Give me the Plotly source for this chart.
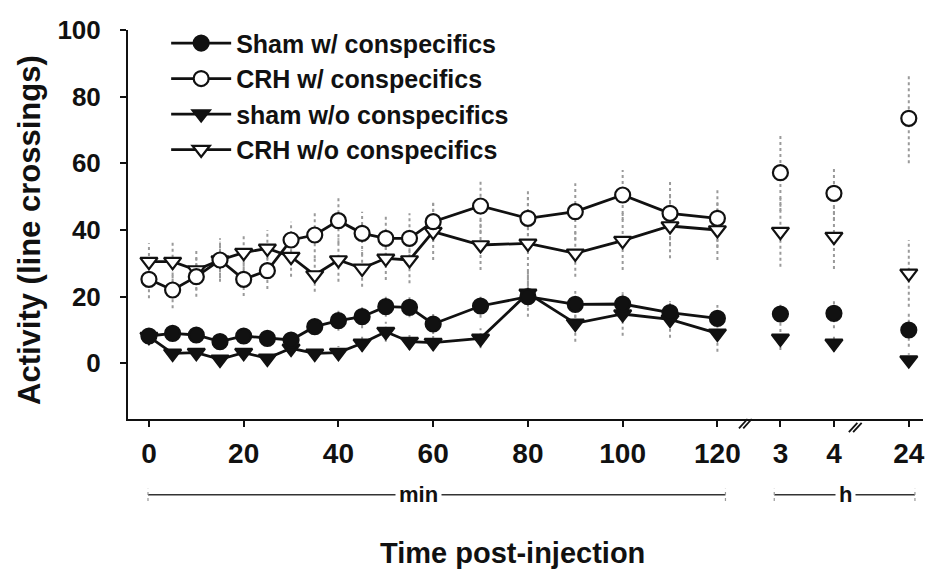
import plotly.graph_objects as go

# ---------------- data ----------------
minute_times = [0, 5, 10, 15, 20, 25, 30, 35, 40, 45, 50, 55, 60, 70, 80, 90, 100, 110, 120]
hour_times = [3, 4, 24]

sham_w = [8.2, 9.0, 8.5, 6.5, 8.2, 7.5, 7.0, 11.0, 12.8, 14.0, 17.0, 16.8, 11.8, 17.2, 20.0, 17.7, 17.8, 15.2, 13.5,
          14.8, 15.0, 10.0]
sham_w_err = [1.5, 2.0, 2.0, 2.0, 2.0, 2.0, 2.0, 2.5, 3.0, 3.5, 3.0, 3.0, 3.0, 3.5, 3.0, 4.0, 3.0, 3.0, 4.0,
              3.5, 4.5, 5.0]

crh_w = [25.2, 22.0, 26.0, 31.0, 25.2, 27.8, 37.0, 38.5, 42.8, 39.0, 37.5, 37.5, 42.5, 47.2, 43.5, 45.5, 50.5, 45.0, 43.5,
         57.2, 51.0, 73.5]
crh_w_err = [5.7, 5.5, 6.0, 5.5, 5.0, 5.5, 5.5, 7.0, 6.8, 6.5, 7.0, 7.5, 6.0, 8.0, 9.0, 8.5, 7.5, 9.5, 8.7,
             11.5, 8.0, 13.5]

sham_wo = [8.0, 3.0, 3.2, 1.2, 3.2, 1.5, 4.5, 3.0, 3.2, 6.0, 9.5, 6.5, 6.2, 7.5, 21.0, 12.0, 14.8, 13.2, 9.0,
           7.5, 6.0, 1.0]
sham_wo_err = [1.5, 1.5, 1.5, 1.5, 1.5, 1.5, 1.5, 1.5, 2.0, 2.5, 3.0, 2.5, 2.5, 3.0, 7.0, 5.5, 6.5, 5.5, 5.5,
               3.5, 2.5, 2.0]

crh_wo = [30.5, 30.5, 28.0, 31.0, 33.2, 34.5, 32.0, 26.5, 31.0, 28.5, 31.5, 31.0, 39.5, 35.5, 36.0, 33.0, 36.8, 41.2, 40.0,
          39.5, 38.0, 27.0]
crh_wo_err = [5.5, 6.0, 6.0, 6.5, 5.0, 5.5, 6.0, 5.0, 6.5, 5.5, 6.5, 7.0, 8.5, 7.5, 14.0, 7.0, 8.8, 9.7, 9.0,
              10.5, 9.7, 10.0]

series_names = ["Sham w/ conspecifics", "CRH w/ conspecifics", "sham w/o conspecifics", "CRH w/o conspecifics"]

minute_ticks = [0, 20, 40, 60, 80, 100, 120]
hour_ticks = [3, 4, 24]

# ---------------- broken time scale ----------------
HOUR_AXIS = {3: 133.3, 4: 144.6, 24: 160.4}   # axis position of each hour after the break


def pos_min(t):
    return t


def pos_hour(h):
    return HOUR_AXIS[h]


n_min = len(minute_times)
x_all = [pos_min(t) for t in minute_times] + [pos_hour(h) for h in hour_times]

FONT = "Liberation Sans, Arial, sans-serif"
BLACK = "#111111"

styles = [
    dict(symbol="circle", color=BLACK),
    dict(symbol="circle", color="white"),
    dict(symbol="triangle-down", color=BLACK),
    dict(symbol="triangle-down", color="white"),
]
values = [sham_w, crh_w, sham_wo, crh_wo]
errors = [sham_w_err, crh_w_err, sham_wo_err, crh_wo_err]

fig = go.Figure()

# error bars (gray dotted vertical segments)
for vals, errs in zip(values, errors):
    ex, ey = [], []
    for x, v, e in zip(x_all, vals, errs):
        ex += [x, x, None]
        ey += [v - e, v + e, None]
    fig.add_trace(go.Scatter(x=ex, y=ey, mode="lines", showlegend=False, hoverinfo="skip",
                             line=dict(color="#9a9a9a", width=2, dash="dot")))

# series: connected minute points + isolated hour points
draw_order = [3, 1, 2, 0]
for i in draw_order:
    st = styles[i]
    mk = dict(symbol=st["symbol"], size=15, color=st["color"], line=dict(color=BLACK, width=2.2))
    fig.add_trace(go.Scatter(x=x_all[:n_min], y=values[i][:n_min], mode="lines+markers",
                             name=series_names[i], legendrank=i + 1, legendgroup=f"g{i}",
                             line=dict(color=BLACK, width=2.8), marker=mk))
    fig.add_trace(go.Scatter(x=x_all[n_min:], y=values[i][n_min:], mode="markers",
                             showlegend=False, legendgroup=f"g{i}", marker=mk))

tickvals = [pos_min(t) for t in minute_ticks] + [pos_hour(h) for h in hour_ticks]
ticktext = [str(t) for t in minute_ticks] + [str(h) for h in hour_ticks]

fig.update_layout(
    width=927, height=574,
    margin=dict(l=128, r=2, t=30, b=155),
    paper_bgcolor="white", plot_bgcolor="white",
    font=dict(family=FONT, color=BLACK),
    showlegend=True,
    legend=dict(x=0.048, y=1.025, xanchor="left", yanchor="top", traceorder="grouped",
                tracegroupgap=0, itemwidth=60, bgcolor="rgba(0,0,0,0)",
                font=dict(family=FONT, size=25, weight="bold", color=BLACK)),
    xaxis=dict(range=[-4.42, 163.4], tickvals=tickvals, ticktext=ticktext,
               showline=True, linecolor=BLACK, linewidth=2, ticks="outside", ticklen=6,
               tickwidth=1.5, tickcolor=BLACK, showgrid=False, zeroline=False,
               ticklabelstandoff=2, ticklabeloverflow="allow",
               tickfont=dict(family=FONT, size=28, weight="bold", color=BLACK)),
    yaxis=dict(range=[-16.7, 100], tickvals=[0, 20, 40, 60, 80, 100],
               showline=True, linecolor=BLACK, linewidth=2, ticks="outside", ticklen=6,
               tickwidth=1.5, tickcolor=BLACK, showgrid=False, zeroline=False,
               ticklabelstandoff=14,
               tickfont=dict(family=FONT, size=26, weight="bold", color=BLACK)),
)

# axis break marks "//"
shapes = []
for xb, yb in [(125.9, -0.012), (149.1, -0.022)]:
    for dx in (-0.45, 0.45):
        shapes.append(dict(type="line", xref="x", yref="paper",
                           x0=xb + dx - 0.9, x1=xb + dx + 0.9, y0=yb - 0.012, y1=yb + 0.012,
                           line=dict(color=BLACK, width=1.8)))

# min / h brackets
y_br = -0.195
for (x0, x1) in [(-0.2, 121.7), (132.0, 161.7)]:
    shapes.append(dict(type="line", xref="x", yref="paper", x0=x0, x1=x1, y0=y_br, y1=y_br,
                       line=dict(color="#333333", width=1.5)))
    for xe in (x0, x1):
        shapes.append(dict(type="line", xref="x", yref="paper", x0=xe, x1=xe,
                           y0=y_br - 0.016, y1=y_br + 0.016,
                           line=dict(color="#999999", width=1.2, dash="dot")))
fig.update_layout(shapes=shapes)

fig.add_annotation(x=57, y=y_br, xref="x", yref="paper", text="min", showarrow=False,
                   xanchor="center", yanchor="middle", bgcolor="white", borderpad=3,
                   font=dict(family=FONT, size=22, weight="bold", color=BLACK))
fig.add_annotation(x=147, y=y_br, xref="x", yref="paper", text="h", showarrow=False,
                   xanchor="center", yanchor="middle", bgcolor="white", borderpad=3,
                   font=dict(family=FONT, size=22, weight="bold", color=BLACK))
fig.add_annotation(x=0.484, y=-0.345, xref="paper", yref="paper", text="Time post-injection",
                   showarrow=False, xanchor="center", yanchor="middle",
                   font=dict(family=FONT, size=29, weight="bold", color=BLACK))
fig.add_annotation(x=-0.124, y=0.487, xref="paper", yref="paper", text="Activity (line crossings)",
                   showarrow=False, xanchor="center", yanchor="middle", textangle=-90,
                   font=dict(family=FONT, size=31, weight="bold", color=BLACK))

fig.write_html("out.html")
